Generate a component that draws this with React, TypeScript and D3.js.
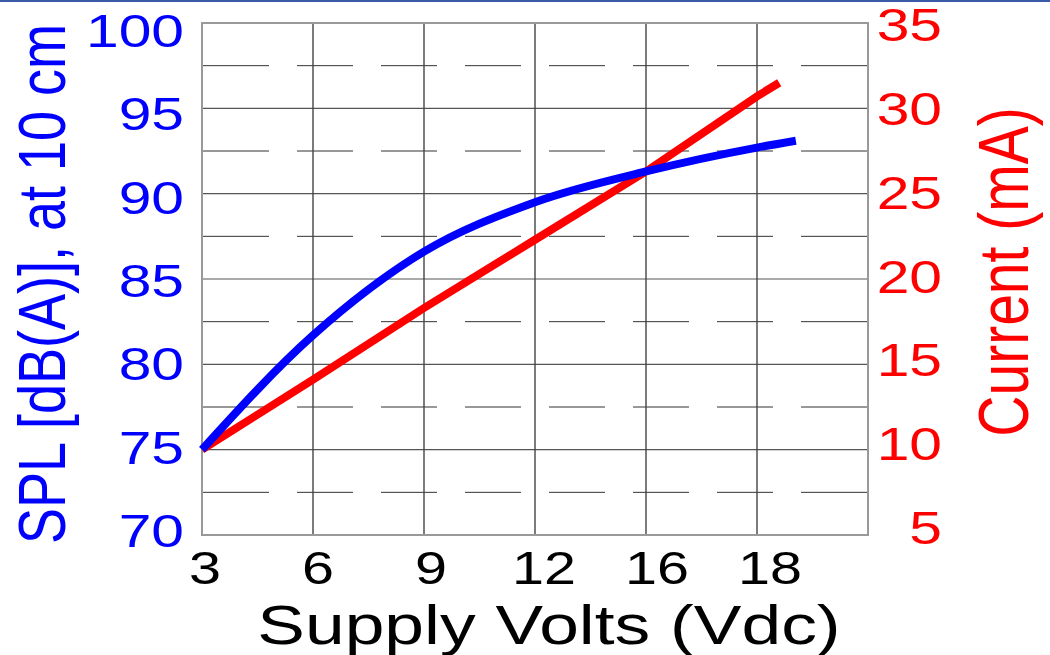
import * as d3 from "d3";

// supply voltage ticks (the axis is not linear: equal spacing per tick)
const voltTicks = [3, 6, 9, 12, 16, 18];
const voltEnd = 20;

// SPL curve (left axis)
const splVolts = [3, 6, 9, 12, 16, 18, 18.7];
const splValues = [75, 81.7, 86.6, 89.5, 91.3, 92.7, 93.1];

// current curve (right axis)
const currentVolts = [3, 6, 9, 12, 16, 18, 18.4];
const currentValues = [10, 14.1, 18.3, 22.3, 26.3, 30.7, 31.5];

const splTicks = [70, 75, 80, 85, 90, 95, 100];
const currentTicks = [5, 10, 15, 20, 25, 30, 35];

const width = 1050;
const height = 655;
const m = { left: 202, right: 868, top: 23, bottom: 535 };
const font = "'Liberation Sans', Arial, sans-serif";
const BLUE = "#0000ff";
const RED = "#ff0000";
const SX = 1.25; // the source picture is stretched horizontally

export default function App() {
  const xDomain = [...voltTicks, voltEnd];
  const step = (m.right - m.left) / (xDomain.length - 1);
  const x = d3
    .scaleLinear()
    .domain(xDomain)
    .range(xDomain.map((_, i) => m.left + i * step));
  const xLab = d3
    .scaleLinear()
    .domain(xDomain)
    .range(xDomain.map((_, i) => 205 + i * 113));

  const yL = d3.scaleLinear().domain([70, 100]).range([m.bottom, m.top]);
  const yR = d3.scaleLinear().domain([5, 35]).range([m.bottom, m.top]);
  const yLLab = d3.scaleLinear().domain([70, 100]).range([530, 30]);
  const yRLab = d3.scaleLinear().domain([5, 35]).range([527, 24]);

  const splLine = d3
    .line<number>()
    .x((_, i) => x(splVolts[i]))
    .y((d) => yL(d))
    .curve(d3.curveMonotoneX);
  const curLine = d3
    .line<number>()
    .x((_, i) => x(currentVolts[i]))
    .y((d) => yR(d));

  const w = m.right - m.left;
  const dash = 56;
  const gap = 28;
  const edge = (w - 6 * dash - 7 * gap) / 2;
  const dashArray = [edge, ...d3.range(6).flatMap(() => [gap, dash]), gap, edge + 4].join(" ");

  const minor = d3.range(72.5, 100, 5);
  const major = splTicks.slice(1, -1);

  return (
    <svg
      width={width}
      height={height}
      style={{ position: "absolute", left: 0, top: 0, background: "#fff" }}
    >
      <rect x={0} y={0} width={width} height={2} fill="#3a5ca8" />

      {/* grid */}
      {minor.map((v) => (
        <line
          key={"mn" + v}
          x1={m.left}
          x2={m.right}
          y1={yL(v)}
          y2={yL(v)}
          stroke="#333"
          strokeWidth={1}
          strokeDasharray={dashArray}
        />
      ))}
      {major.map((v) => (
        <line key={"mj" + v} x1={m.left} x2={m.right} y1={yL(v)} y2={yL(v)} stroke="#555" strokeWidth={1.2} />
      ))}
      {voltTicks.slice(1).map((v) => (
        <line key={"v" + v} x1={x(v)} x2={x(v)} y1={m.top} y2={m.bottom} stroke="#444" strokeWidth={1.4} />
      ))}
      <rect
        x={m.left}
        y={m.top}
        width={w}
        height={m.bottom - m.top}
        fill="none"
        stroke="#999"
        strokeWidth={2}
      />

      {/* series */}
      <path d={curLine(currentValues) ?? ""} fill="none" stroke={RED} strokeWidth={8} />
      <path d={splLine(splValues) ?? ""} fill="none" stroke={BLUE} strokeWidth={8} />

      {/* left ticks */}
      <g fontFamily={font} fontSize={47} fill={BLUE} textAnchor="end">
        {splTicks.map((v) => (
          <text key={v} transform={`translate(184,${yLLab(v) + 17}) scale(${SX},1)`}>
            {v}
          </text>
        ))}
      </g>
      {/* right ticks */}
      <g fontFamily={font} fontSize={47} fill={RED} textAnchor="end">
        {currentTicks.map((v) => (
          <text key={v} transform={`translate(942,${yRLab(v) + 17}) scale(${SX},1)`}>
            {v}
          </text>
        ))}
      </g>
      {/* bottom ticks */}
      <g fontFamily={font} fontSize={46} fill="#000" textAnchor="middle">
        {voltTicks.map((v) => (
          <text key={v} transform={`translate(${xLab(v)},584) scale(${SX},1)`}>
            {v}
          </text>
        ))}
      </g>

      {/* titles */}
      <text
        fontFamily={font}
        fontSize={56}
        fill="#000"
        textAnchor="middle"
        transform={`translate(549,644) scale(${SX * 1.02},1)`}
      >
        Supply Volts (Vdc)
      </text>
      <text
        fontFamily={font}
        fontSize={54}
        fill={BLUE}
        textAnchor="middle"
        transform={`translate(65,284) rotate(-90) scale(1,${SX})`}
      >
        SPL [dB(A)], at 10 cm
      </text>
      <text
        fontFamily={font}
        fontSize={57}
        fill={RED}
        textAnchor="middle"
        transform={`translate(1028,272) rotate(-90) scale(1,${SX})`}
      >
        Current (mA)
      </text>
    </svg>
  );
}
